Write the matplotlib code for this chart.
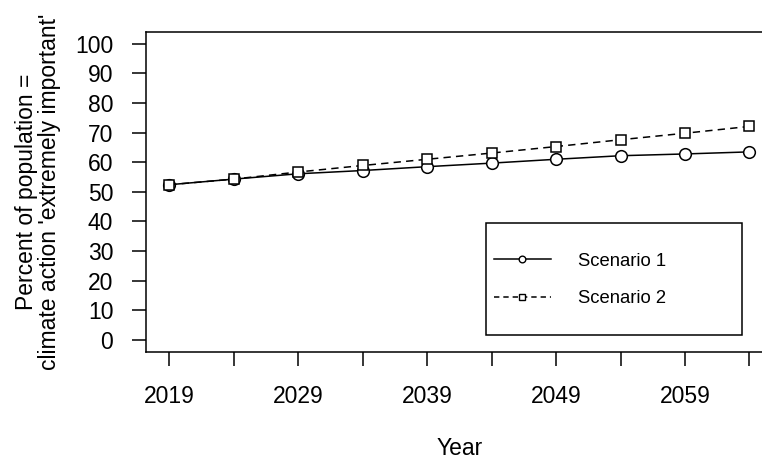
import matplotlib
matplotlib.use('Agg')
import matplotlib.pyplot as plt
from matplotlib.lines import Line2D
from matplotlib.patches import Rectangle

# values
years = [2019, 2024, 2029, 2034, 2039, 2044, 2049, 2054, 2059, 2064]
scenario1 = [52.4, 54.3, 56.1, 57.2, 58.5, 59.7, 61.0, 62.2, 62.8, 63.5]
scenario2 = [52.4, 54.3, 56.7, 58.9, 61.0, 63.1, 65.3, 67.6, 69.8, 72.1]
year_labels = ['2019', '', '2029', '', '2039', '', '2049', '', '2059', '']
pct_ticks = [0, 10, 20, 30, 40, 50, 60, 70, 80, 90, 100]
series_names = ['Scenario 1', 'Scenario 2']

plt.rcParams['font.family'] = ['Liberation Sans', 'DejaVu Sans']

fig = plt.figure(figsize=(7.62, 4.59), dpi=100)
ax = fig.add_axes([0.1916, 0.2338, 0.8224, 0.6965])

lw = 1.1
dash = (4.8, 3.4)
ax.plot(years, scenario1, '-', color='black', lw=lw, marker='o', ms=8.4,
        mfc='white', mec='black', mew=lw, label=series_names[0])
ax.plot(years, scenario2, '--', dashes=dash, color='black', lw=lw, marker='s', ms=7.2,
        mfc='white', mec='black', mew=lw, label=series_names[1])

ax.set_xlim(2017.2, 2065.8)
ax.set_ylim(-4, 104)
ax.set_xticks(years)
ax.set_xticklabels(year_labels)
ax.set_yticks(pct_ticks)

ax.tick_params(axis='both', direction='out', length=10, width=lw, labelsize=16.5, color='black')
ax.tick_params(axis='x', pad=14)
ax.tick_params(axis='y', pad=13.5)
for sp in ax.spines.values():
    sp.set_linewidth(lw)

ax.set_xlabel('Year', fontsize=16.5, labelpad=21)
ax.set_ylabel("Percent of population =\nclimate action 'extremely important'",
              fontsize=16.5, labelpad=10.5, linespacing=1.0)

# legend: frame drawn as a separate box, entries placed inside it
fig.add_artist(Rectangle((486 / 762, 1 - 335 / 459), 256 / 762, 112 / 459,
                         transform=fig.transFigure, facecolor='white',
                         edgecolor='black', lw=lw, zorder=3))
handles = [
    Line2D([], [], color='black', lw=lw, marker='o', ms=4.8, mfc='white', mew=1.0),
    Line2D([], [], color='black', lw=lw, ls='--', dashes=(3.5, 2.6), marker='s', ms=4.3,
           mfc='white', mew=1.0),
]
leg = fig.legend(handles, series_names, loc='center left',
                 bbox_to_anchor=(494 / 762, 1 - 280 / 459),
                 fontsize=13.3, frameon=False, borderpad=0, handlelength=3.08,
                 handletextpad=1.46, labelspacing=1.12, borderaxespad=0)
leg.set_zorder(4)

fig.savefig('out.png', dpi=100)
